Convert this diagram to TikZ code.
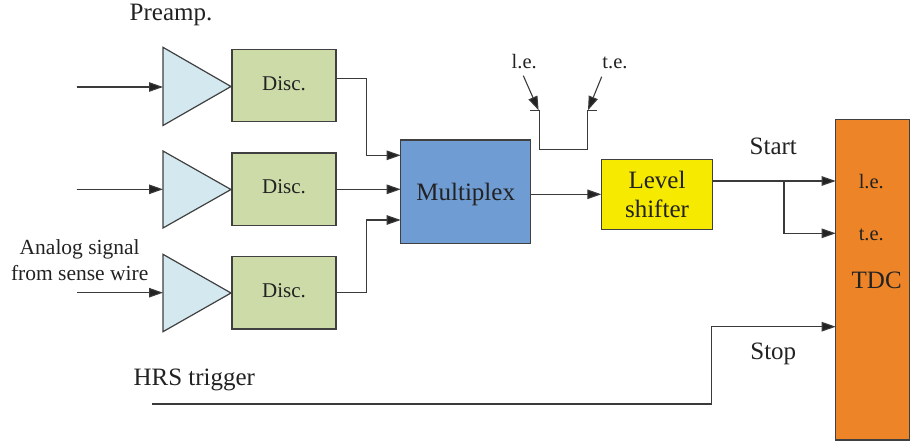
\documentclass[tikz,border=0pt]{standalone}
\usepackage{fontspec}
\setmainfont{Liberation Serif}
\usetikzlibrary{arrows.meta}
\definecolor{ampc}{HTML}{D3E9EF}
\definecolor{discc}{HTML}{CDDBA9}
\definecolor{muxc}{HTML}{6F9DD3}
\definecolor{lsc}{HTML}{F6EA00}
\definecolor{tdcc}{HTML}{EE8428}
\definecolor{edgec}{HTML}{404040}
\definecolor{linec}{HTML}{3A3A3A}
\definecolor{txtc}{HTML}{222222}
\begin{document}
\begin{tikzpicture}[x=1pt,y=-1pt,
  box/.style={draw=edgec, line width=1.3pt, inner sep=0pt, outer sep=0pt, text=txtc, align=center},
  discbox/.style={box, fill=discc, minimum width=104pt, minimum height=72.5pt, font=\fontsize{21}{24}\selectfont, text height=13.5pt, text depth=4.5pt},
  ampshape/.style={draw=edgec, line width=1.2pt, fill=ampc, line join=miter},
  conn/.style={draw=linec, line width=1.1pt},
  arr/.style={conn, -{Triangle[length=14pt,width=9.5pt,fill=txtc]}},
  bigf/.style={font=\fontsize{25}{29.4}\selectfont, text=txtc, inner sep=0pt},
  smallf/.style={font=\fontsize{21.5}{26.7}\selectfont, text=txtc, inner sep=0pt},
  lef/.style={font=\fontsize{20.5}{24}\selectfont, text=txtc, inner sep=0pt}]
\useasboundingbox (0,0) rectangle (910,442);

% preamplifiers
\draw[ampshape] (163,47.3) -- (231,86.5) -- (163,125.5) -- cycle;
\draw[ampshape] (163,151) -- (231,189.5) -- (163,228) -- cycle;
\draw[ampshape] (163,254.3) -- (231,293) -- (163,331.7) -- cycle;
\coordinate (a1) at (163,87);
\coordinate (a2) at (163,189.3);
\coordinate (a3) at (163,292.7);

% discriminators
\node[discbox] (d1) at (284,85.5) {Disc.};
\node[discbox] (d2) at (284,189.3) {Disc.};
\node[discbox] (d3) at (284,292.8) {Disc.};

% multiplex, level shifter, TDC
\node[box, fill=muxc, minimum width=130pt, minimum height=103.3pt, font=\fontsize{25}{29.4}\selectfont, text height=19pt, text depth=2.4pt] (mux) at (465.7,191.7) {Multiplex};
\node[box, fill=lsc, minimum width=111.4pt, minimum height=70pt, font=\fontsize{25}{29.4}\selectfont] (ls) at (657,194.3) {Level\\shifter};
\node[box, fill=tdcc, minimum width=73.8pt, minimum height=320.7pt] (tdc) at (872.6,279.7) {};

% labels
\node[bigf, anchor=base] (pre) at (171,20) {Preamp.};
\node[smallf, align=center, anchor=north] (ana) at (79.7,239) {Analog signal\\from sense wire};
\node[bigf, anchor=base] (hrs) at (194.3,385.7) {HRS trigger};
\node[bigf, anchor=base] (start) at (773.3,154.3) {Start};
\node[bigf, anchor=base] (stop) at (773.3,359.3) {Stop};
\node[lef, anchor=base] (tle) at (871.3,188.3) {l.e.};
\node[lef, anchor=base] (tte) at (871.3,240) {t.e.};
\node[bigf, anchor=base] (tdclab) at (876.7,288.3) {TDC};
\node[lef, anchor=base] (ple) at (524.2,68.3) {l.e.};
\node[lef, anchor=base] (pte) at (615,68.3) {t.e.};

% inputs
\coordinate (i1) at (76.7,87);
\coordinate (i2) at (76.7,189.3);
\coordinate (i3) at (77.3,292.7);
\draw[arr] (i1) -- (a1);
\draw[arr] (i2) -- (a2);
\draw[arr] (i3) -- (a3);

% disc -> multiplex
\coordinate (j1) at (366.7,155.3);
\coordinate (j3) at (366.7,220);
\draw[arr] ([yshift=7.2pt]d1.east) -| (j1) -- (j1 -| mux.west);
\draw[arr] (d2.east) -- (d2.east -| mux.west);
\draw[arr] (d3.east) -| (j3) -- (j3 -| mux.west);

% multiplex -> level shifter
\draw[arr] (mux.east |- ls.west) -- (ls.west);

% level shifter -> TDC
\coordinate (s0) at ([yshift=13.3pt]ls.east);
\coordinate (br) at (784,181);
\coordinate (te) at (784,233.3);
\draw[arr] (s0) -- (s0 -| tdc.west);
\draw[arr] (br) -- (te) -- (te -| tdc.west);

% stop
\coordinate (hs) at (152.3,404);
\coordinate (sj) at (711.7,326.7);
\draw[arr] (hs) -| (sj) -- (sj -| tdc.west);

% pulse
\coordinate (p1) at (530,110.3);
\coordinate (p2) at (539.3,110.3);
\coordinate (p3) at (539.3,149.3);
\coordinate (p4) at (587.3,149.3);
\coordinate (p5) at (587.3,110.3);
\coordinate (p6) at (597.3,110.3);
\draw[conn] (p1) -- (p2) -- (p3) -- (p4) -- (p5) -- (p6);
\coordinate (lt) at (523.3,75.7);
\coordinate (tt) at (601.7,76.7);
\draw[arr] (lt) -- (538.6,110.3);
\draw[arr] (tt) -- (588,110.3);
\end{tikzpicture}
\end{document}
